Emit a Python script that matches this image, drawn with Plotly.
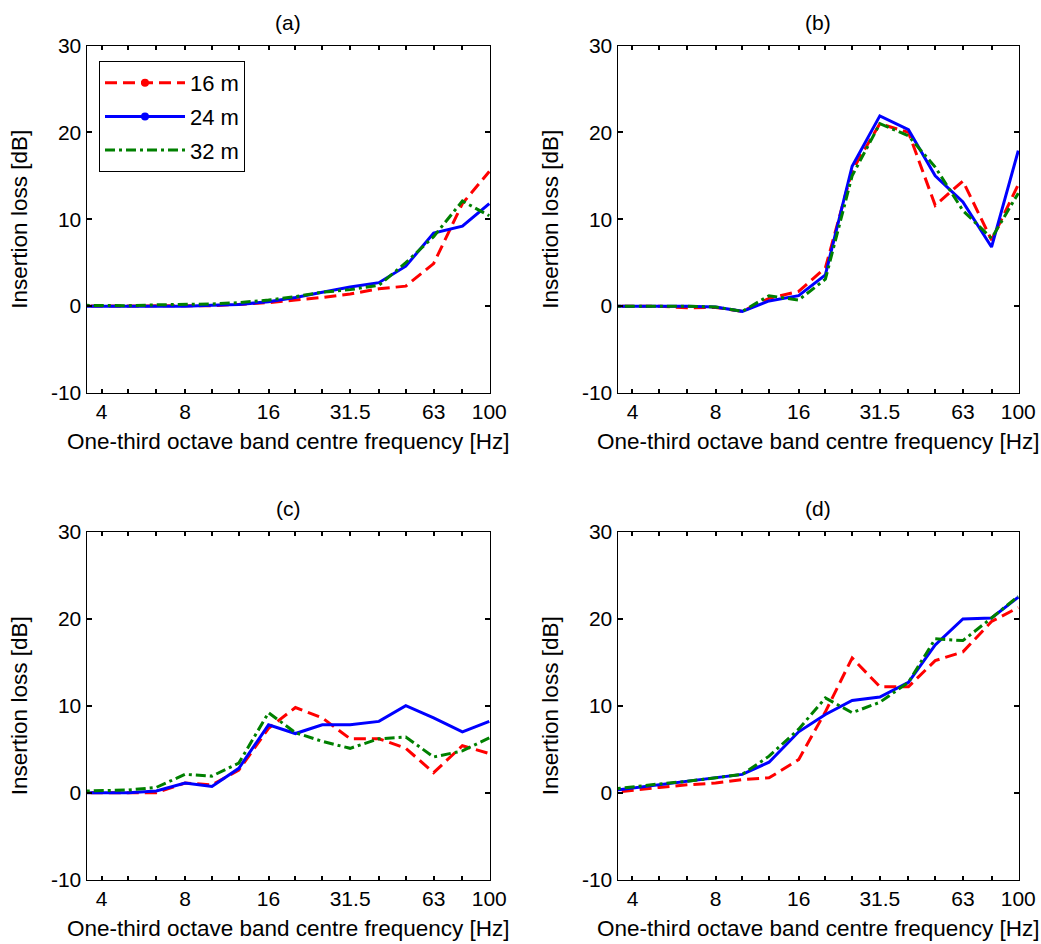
import math
import plotly.graph_objects as go

# One-third octave band centre frequencies [Hz]
freq = [3.15, 4, 5, 6.3, 8, 10, 12.5, 16, 20, 25, 31.5, 40, 50, 63, 80, 100]
tick_freq = [4, 5, 6.3, 8, 10, 12.5, 16, 20, 25, 31.5, 40, 50, 63, 80, 100]
tick_text = ['4', '', '', '8', '', '', '16', '', '', '31.5', '', '', '63', '', '100']
y_ticks = [-10, 0, 10, 20, 30]
y_tick_text = ['-10', '0', '10', '20', '30']

series_names = ['16 m', '24 m', '32 m']
panel_titles = ['(a)', '(b)', '(c)', '(d)']

# Insertion loss [dB]
a_16 = [0, 0, 0, 0, 0, 0.05, 0.2, 0.4, 0.7, 1.0, 1.4, 2.0, 2.3, 4.9, 11.8, 15.5]
a_24 = [0, 0, 0, 0, 0, 0.1, 0.2, 0.5, 1.0, 1.6, 2.2, 2.7, 4.6, 8.4, 9.2, 11.8]
a_32 = [0.1, 0.1, 0.05, 0.15, 0.2, 0.25, 0.4, 0.7, 1.1, 1.6, 1.9, 2.4, 5.0, 8.0, 12.1, 10.4]

b_16 = [0, 0, 0, -0.2, -0.15, -0.6, 0.9, 1.7, 4.4, 15.6, 21.0, 20.0, 11.6, 14.4, 7.6, 14.0]
b_24 = [0, 0, 0, 0, -0.1, -0.6, 0.6, 1.2, 3.6, 16.1, 21.9, 20.3, 15.0, 12.0, 6.8, 17.9]
b_32 = [0, 0, 0, 0, -0.1, -0.6, 1.2, 0.7, 3.1, 15.0, 21.0, 19.6, 16.0, 11.0, 7.8, 13.0]

c_16 = [0, 0, 0, 0.0, 1.1, 0.9, 2.6, 7.4, 9.8, 8.6, 6.2, 6.2, 5.1, 2.3, 5.4, 4.5]
c_24 = [0, 0, 0, 0.2, 1.1, 0.7, 2.8, 7.8, 6.8, 7.8, 7.8, 8.2, 10.0, 8.6, 7.0, 8.2]
c_32 = [0.15, 0.2, 0.3, 0.6, 2.1, 1.9, 3.4, 9.2, 6.9, 5.9, 5.1, 6.2, 6.4, 4.1, 4.8, 6.3]

d_16 = [-0.1, 0.3, 0.6, 0.9, 1.1, 1.5, 1.7, 3.8, 9.3, 15.5, 12.2, 12.2, 15.2, 16.2, 19.7, 21.3]
d_24 = [0.1, 0.5, 0.9, 1.3, 1.7, 2.1, 3.5, 7.0, 9.0, 10.6, 11.0, 12.7, 17.0, 20.0, 20.1, 22.5]
d_32 = [0.3, 0.7, 1.0, 1.3, 1.7, 2.1, 4.2, 7.3, 10.9, 9.2, 10.4, 12.7, 17.7, 17.5, 20.1, 22.6]

panels = [(a_16, a_24, a_32), (b_16, b_24, b_32), (c_16, c_24, c_32), (d_16, d_24, d_32)]

colors = ['#FF0000', '#0000FF', '#008000']
dashes = ['12px,6px', 'solid', '10px,4px,3px,4px']
legend_markers = [True, True, False]

W, H = 1041, 944
FONT = 'Liberation Sans, Arial, sans-serif'
TICK_FS = 21
LABEL_FS = 22.5
TITLE_FS = 21
LEGEND_FS = 22

# pixel boxes of the four plot areas: (left, right, top, bottom)
boxes = [(86.5, 490, 45.5, 393), (617.5, 1019, 45.5, 393),
         (86.5, 490, 532, 879.5), (617.5, 1019, 532, 879.5)]

fig = go.Figure()

for p, data in enumerate(panels):
    sfx = '' if p == 0 else str(p + 1)
    for s, vals in enumerate(data):
        fig.add_trace(go.Scatter(
            x=freq, y=vals, mode='lines', name=series_names[s], showlegend=False,
            line=dict(color=colors[s], width=3, dash=dashes[s]),
            xaxis='x' + sfx, yaxis='y' + sfx))

# legend entries (MATLAB-style: marker dot on first two entries)
for s in range(3):
    fig.add_trace(go.Scatter(
        x=[None], y=[None], name=series_names[s], legendgroup='g%d' % s,
        mode='lines+markers' if legend_markers[s] else 'lines',
        line=dict(color=colors[s], width=3, dash=dashes[s]),
        marker=dict(color=colors[s], size=8),
        xaxis='x', yaxis='y'))

layout = dict(
    width=W, height=H, margin=dict(l=0, r=0, t=0, b=0),
    paper_bgcolor='white', plot_bgcolor='white',
    font=dict(family=FONT, size=TICK_FS, color='black'),
    legend=dict(x=99 / W, y=1 - 61 / H, xanchor='left', yanchor='top',
                bordercolor='black', borderwidth=1, bgcolor='white',
                font=dict(family=FONT, size=LEGEND_FS), itemwidth=80,
                traceorder='grouped', tracegroupgap=2),
    annotations=[],
)

for p in range(4):
    sfx = '' if p == 0 else str(p + 1)
    l, r, t, b = boxes[p]
    layout['xaxis' + sfx] = dict(
        domain=[l / W, r / W], anchor='y' + sfx, type='log', automargin=False,
        range=[math.log10(3.53), math.log10(100.6)],
        tickmode='array', tickvals=tick_freq, ticktext=tick_text,
        ticks='inside', ticklen=4, tickwidth=1.5, tickcolor='black',
        showline=True, linecolor='black', linewidth=1, mirror='ticks',
        showgrid=False, zeroline=False,
        tickfont=dict(family=FONT, size=TICK_FS),
        title=dict(text='One-third octave band centre frequency [Hz]',
                   font=dict(family=FONT, size=LABEL_FS), standoff=11))
    layout['yaxis' + sfx] = dict(
        domain=[1 - b / H, 1 - t / H], anchor='x' + sfx, automargin=False,
        range=[-10, 30], tickmode='array', tickvals=y_ticks, ticktext=y_tick_text,
        ticks='inside', ticklen=5, tickwidth=1.5, tickcolor='black',
        showline=True, linecolor='black', linewidth=1, mirror='ticks',
        showgrid=False, zeroline=False,
        tickfont=dict(family=FONT, size=TICK_FS),
        title=dict(text='Insertion loss [dB]', font=dict(family=FONT, size=LABEL_FS),
                   standoff=17))
    layout['annotations'].append(dict(
        text=panel_titles[p], xref='paper', yref='paper',
        x=(l + r) / 2 / W, y=1 - (t - 23) / H, xanchor='center', yanchor='middle',
        showarrow=False, font=dict(family=FONT, size=TITLE_FS)))

fig.update_layout(**layout)
fig.write_html('out.html')
